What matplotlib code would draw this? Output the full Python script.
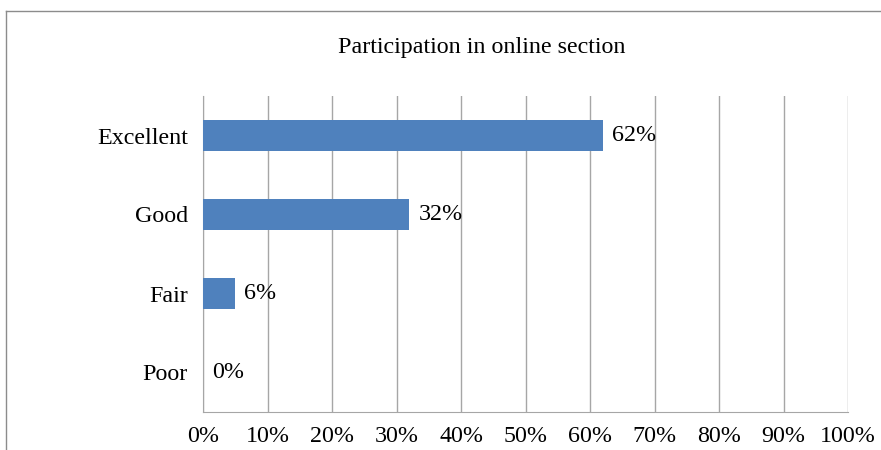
import matplotlib.pyplot as plt
from matplotlib.lines import Line2D

categories = ["Excellent", "Good", "Fair", "Poor"]
# bar lengths as drawn; the Fair bar is drawn a bit shorter than its label
values = [62, 32, 5, 0]
value_labels = ["62%", "32%", "6%", "0%"]
ticks = [0, 10, 20, 30, 40, 50, 60, 70, 80, 90, 100]

plt.rcParams["font.family"] = ["Liberation Serif", "DejaVu Serif"]
fs = 17.3

fig = plt.figure(figsize=(8.81, 4.5), dpi=100)
ax = fig.add_axes([203 / 881, 1 - 412 / 450, 645 / 881, 316 / 450])

pos = list(range(len(categories)))[::-1]
ax.barh(pos, values, height=0.38, color="#4F81BD", zorder=3)
for p, v, lab in zip(pos, values, value_labels):
    ax.annotate(lab, (v, p), xytext=(6.5, 0), textcoords="offset points",
                va="center", ha="left", fontsize=fs)

ax.set_xlim(0, 100)
ax.set_ylim(-0.5, 3.5)
ax.set_xticks(ticks)
ax.set_xticklabels([f"{t}%" for t in ticks], fontsize=fs)
ax.set_yticks(pos)
ax.set_yticklabels(categories, fontsize=fs)
ax.tick_params(length=0, pad=11)
ax.tick_params(axis="x", pad=10)
ax.grid(axis="x", color="#a6a6a6", linewidth=1, zorder=0)
for s in ["top", "right"]:
    ax.spines[s].set_visible(False)
ax.spines["left"].set_color("#a6a6a6")
ax.spines["bottom"].set_color("#a6a6a6")

fig.text(482 / 881, 1 - 48 / 450, "Participation in online section",
         ha="center", va="center", fontsize=fs)

# chart border (partly cut off in the original)
fig.add_artist(Line2D([6 / 881, 1], [1 - 11 / 450, 1 - 11 / 450],
                      transform=fig.transFigure, color="#8c8c8c", linewidth=1))
fig.add_artist(Line2D([6 / 881, 6 / 881], [0, 1 - 11 / 450],
                      transform=fig.transFigure, color="#8c8c8c", linewidth=1))

fig.savefig("out.png", dpi=100)
